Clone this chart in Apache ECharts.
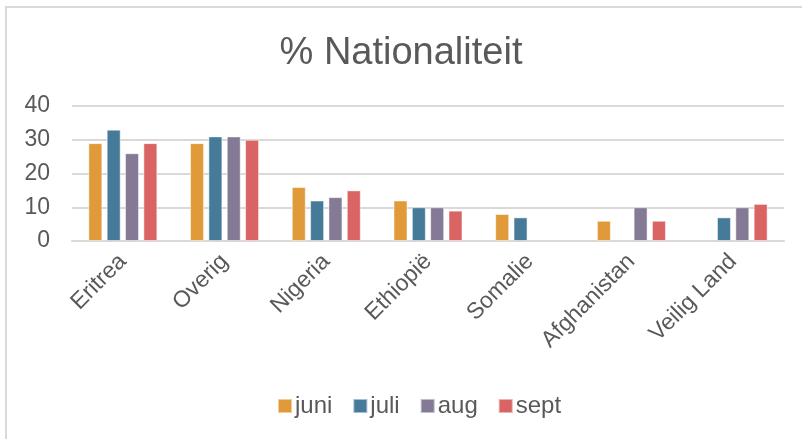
<!DOCTYPE html>
<html>
<head>
<meta charset="utf-8">
<script src="https://cdn.jsdelivr.net/npm/echarts@6/dist/echarts.min.js"></script>
<style>
  html, body { margin: 0; padding: 0; background: #fff; }
  #frame { position: absolute; left: 5px; top: 6px; width: 820px; height: 460px; border: 2px solid #d9d9d9; box-sizing: border-box; }
  #main { position: absolute; left: 0; top: 0; width: 802px; height: 439px; }
</style>
</head>
<body>
<div id="frame"></div>
<div id="main"></div>
<script>
var categories = ['Eritrea', 'Overig', 'Nigeria', 'Ethiopië', 'Somalie', 'Afghanistan', 'Veilig Land'];
var juni = [29, 29, 16, 12, 8, 6, null];
var juli = [33, 31, 12, 10, 7, null, 7];
var aug  = [26, 31, 13, 10, null, 10, 10];
var sept = [29, 30, 15, 9, null, 6, 11];
var seriesNames = ['juni', 'juli', 'aug', 'sept'];
var colors = ['#E09A3A', '#467A99', '#857A95', '#DA6363'];

var chart = echarts.init(document.getElementById('main'));
var font = 'Liberation Sans';
var txt = '#595959';

function bar(name, data) {
  return {
    name: name,
    type: 'bar',
    data: data,
    barWidth: 14,
    barGap: '31%',
    itemStyle: { borderColor: 'rgba(255,255,255,0.5)', borderWidth: 1 }
  };
}

chart.setOption({
  animation: false,
  color: colors,
  title: {
    text: '% Nationaliteit',
    left: 'center',
    top: 30,
    textStyle: { fontFamily: font, fontSize: 38, fontWeight: 'normal', color: txt }
  },
  legend: {
    data: seriesNames,
    bottom: 16,
    left: 272,
    icon: 'rect',
    itemWidth: 14,
    itemHeight: 14,
    itemGap: 20,
    textStyle: { fontFamily: font, fontSize: 24, color: txt, padding: [0, 0, 0, -2] }
  },
  grid: { left: 72, right: 18, top: 106, bottom: 198, containLabel: false },
  xAxis: {
    type: 'category',
    data: categories,
    axisTick: { show: false },
    axisLine: { lineStyle: { color: '#d9d9d9', width: 2 } },
    axisLabel: { rotate: 45, margin: 17, fontFamily: font, fontSize: 23, color: txt, interval: 0 }
  },
  yAxis: {
    type: 'value',
    min: 0,
    max: 40,
    interval: 10,
    axisLine: { show: false },
    axisTick: { show: false },
    splitLine: { lineStyle: { color: '#d9d9d9', width: 2 } },
    axisLabel: { margin: 22, fontFamily: font, fontSize: 23, color: txt }
  },
  series: [bar('juni', juni), bar('juli', juli), bar('aug', aug), bar('sept', sept)]
});
</script>
</body>
</html>
